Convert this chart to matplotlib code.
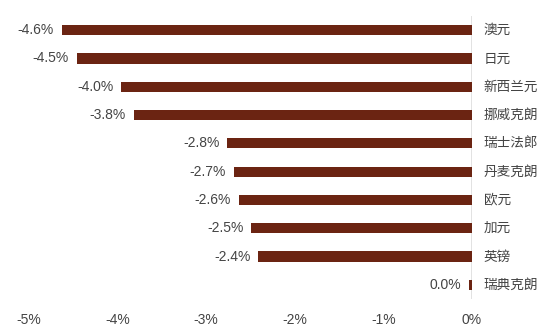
import matplotlib.pyplot as plt

plt.rcParams["font.family"] = ["Noto Sans CJK SC", "DejaVu Sans"]

currencies = ["澳元", "日元", "新西兰元", "挪威克朗", "瑞士法郎", "丹麦克朗", "欧元", "加元", "英镑", "瑞典克朗"]
change_pct = [-4.63, -4.46, -3.96, -3.82, -2.76, -2.69, -2.63, -2.49, -2.41, -0.03]
x_ticks = [-5, -4, -3, -2, -1, 0]

BAR_COLOR = "#6B2412"
TEXT_COLOR = "#444444"
NUM_FONT = ["Liberation Sans", "DejaVu Sans"]

fig = plt.figure(figsize=(5.5, 3.34), dpi=100)
ax = fig.add_axes([29 / 550, 1 - 299 / 334, 443 / 550, 283 / 334])

ypos = list(range(len(currencies)))
ax.barh(ypos, change_pct, height=0.36, color=BAR_COLOR, zorder=2)
ax.axvline(0, color="#dddddd", lw=1.2, zorder=1)

for y, v, name in zip(ypos, change_pct, currencies):
    ax.text(v - 0.09, y, f"{round(v, 1) + 0.0:.1f}%", ha="right", va="center",
            fontsize=10, color=TEXT_COLOR, family=NUM_FONT)
    ax.text(0.13, y, name, ha="left", va="center", fontsize=9.8,
            color=TEXT_COLOR, clip_on=False)

ax.set_xlim(-5, 0)
ax.set_ylim(len(currencies) - 0.5, -0.5)
ax.set_xticks(x_ticks)
ax.set_xticklabels([f"{t}%" for t in x_ticks], family=NUM_FONT,
                   fontsize=10, color=TEXT_COLOR)
ax.tick_params(axis="x", length=0, pad=10)
ax.set_yticks([])
for s in ax.spines.values():
    s.set_visible(False)

fig.savefig("out.png", dpi=100)
